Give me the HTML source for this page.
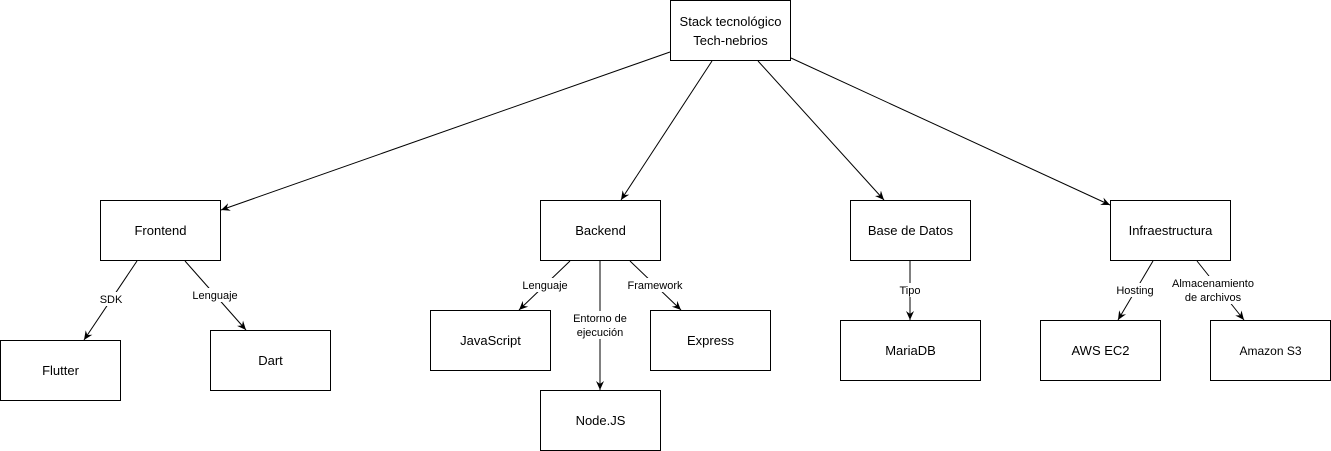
<!DOCTYPE html>
<html><head><meta charset="utf-8"><style>
html,body{margin:0;padding:0;background:#fff;}
svg{display:block;font-family:"Liberation Sans",Arial,sans-serif;}
</style></head><body>
<svg width="1331" height="451" viewBox="0 0 1331 451" xmlns="http://www.w3.org/2000/svg">
<defs><marker id="a" markerWidth="10" markerHeight="10" refX="9" refY="5" orient="auto" markerUnits="userSpaceOnUse"><path d="M0,1 L9,5 L0,9 L3,5 Z" fill="#000"/></marker></defs>
<g fill="#fff" stroke="#000" stroke-width="1">
<rect x="670.5" y="0.5" width="120" height="60"/>
<rect x="100.5" y="200.5" width="120" height="60"/>
<rect x="540.5" y="200.5" width="120" height="60"/>
<rect x="850.5" y="200.5" width="120" height="60"/>
<rect x="1110.5" y="200.5" width="120" height="60"/>
<rect x="0.5" y="340.5" width="120" height="60"/>
<rect x="210.5" y="330.5" width="120" height="60"/>
<rect x="430.5" y="310.5" width="120" height="60"/>
<rect x="650.5" y="310.5" width="120" height="60"/>
<rect x="540.5" y="390.5" width="120" height="60"/>
<rect x="840.5" y="320.5" width="140" height="60"/>
<rect x="1040.5" y="320.5" width="120" height="60"/>
<rect x="1210.5" y="320.5" width="120" height="60"/>
</g>
<g stroke="#000" stroke-width="1" fill="none" marker-end="url(#a)">
<line x1="670" y1="52" x2="221" y2="210"/>
<line x1="712" y1="61" x2="621" y2="200"/>
<line x1="758" y1="61" x2="884" y2="200"/>
<line x1="791" y1="58" x2="1110" y2="205"/>
<line x1="137" y1="261" x2="84" y2="340"/>
<line x1="185" y1="261" x2="246" y2="330"/>
<line x1="570" y1="261" x2="519" y2="310"/>
<line x1="600" y1="261" x2="600" y2="390"/>
<line x1="630" y1="261" x2="681" y2="310"/>
<line x1="910" y1="261" x2="910" y2="320"/>
<line x1="1153" y1="261" x2="1118" y2="320"/>
<line x1="1197" y1="261" x2="1244" y2="320"/>
</g>
<g font-size="11" text-anchor="middle" fill="#000">
<rect x="97" y="292" width="28" height="14" fill="#fff"/>
<text x="111" y="303">SDK</text>
<rect x="190" y="288" width="50" height="14" fill="#fff"/>
<text x="215" y="299">Lenguaje</text>
<rect x="520" y="278" width="50" height="14" fill="#fff"/>
<text x="545" y="289">Lenguaje</text>
<rect x="572" y="311" width="58" height="28" fill="#fff"/>
<text x="600" y="322">Entorno de</text>
<text x="600" y="336">ejecución</text>
<rect x="626" y="278" width="58" height="14" fill="#fff"/>
<text x="655" y="289">Framework</text>
<rect x="898" y="283" width="24" height="14" fill="#fff"/>
<text x="910" y="294">Tipo</text>
<rect x="1114" y="283" width="42" height="14" fill="#fff"/>
<text x="1135" y="294">Hosting</text>
<rect x="1176" y="276" width="76" height="28" fill="#fff"/>
<text x="1213" y="287">Almacenamiento</text>
<text x="1213" y="301">de archivos</text>
</g>
<g font-size="13" text-anchor="middle" fill="#000">
<text x="730.5" y="26">Stack tecnológico</text>
<text x="730.5" y="45">Tech-nebrios</text>
<text x="160.5" y="235">Frontend</text>
<text x="600.5" y="235">Backend</text>
<text x="910.5" y="235">Base de Datos</text>
<text x="1170.5" y="235">Infraestructura</text>
<text x="60.5" y="375">Flutter</text>
<text x="270.5" y="365">Dart</text>
<text x="490.5" y="345">JavaScript</text>
<text x="710.5" y="345">Express</text>
<text x="600.5" y="425">Node.JS</text>
<text x="910.5" y="355">MariaDB</text>
<text x="1100.5" y="355">AWS EC2</text>
<text x="1270.5" y="355" font-size="12">Amazon S3</text>
</g>
</svg>
</body></html>
